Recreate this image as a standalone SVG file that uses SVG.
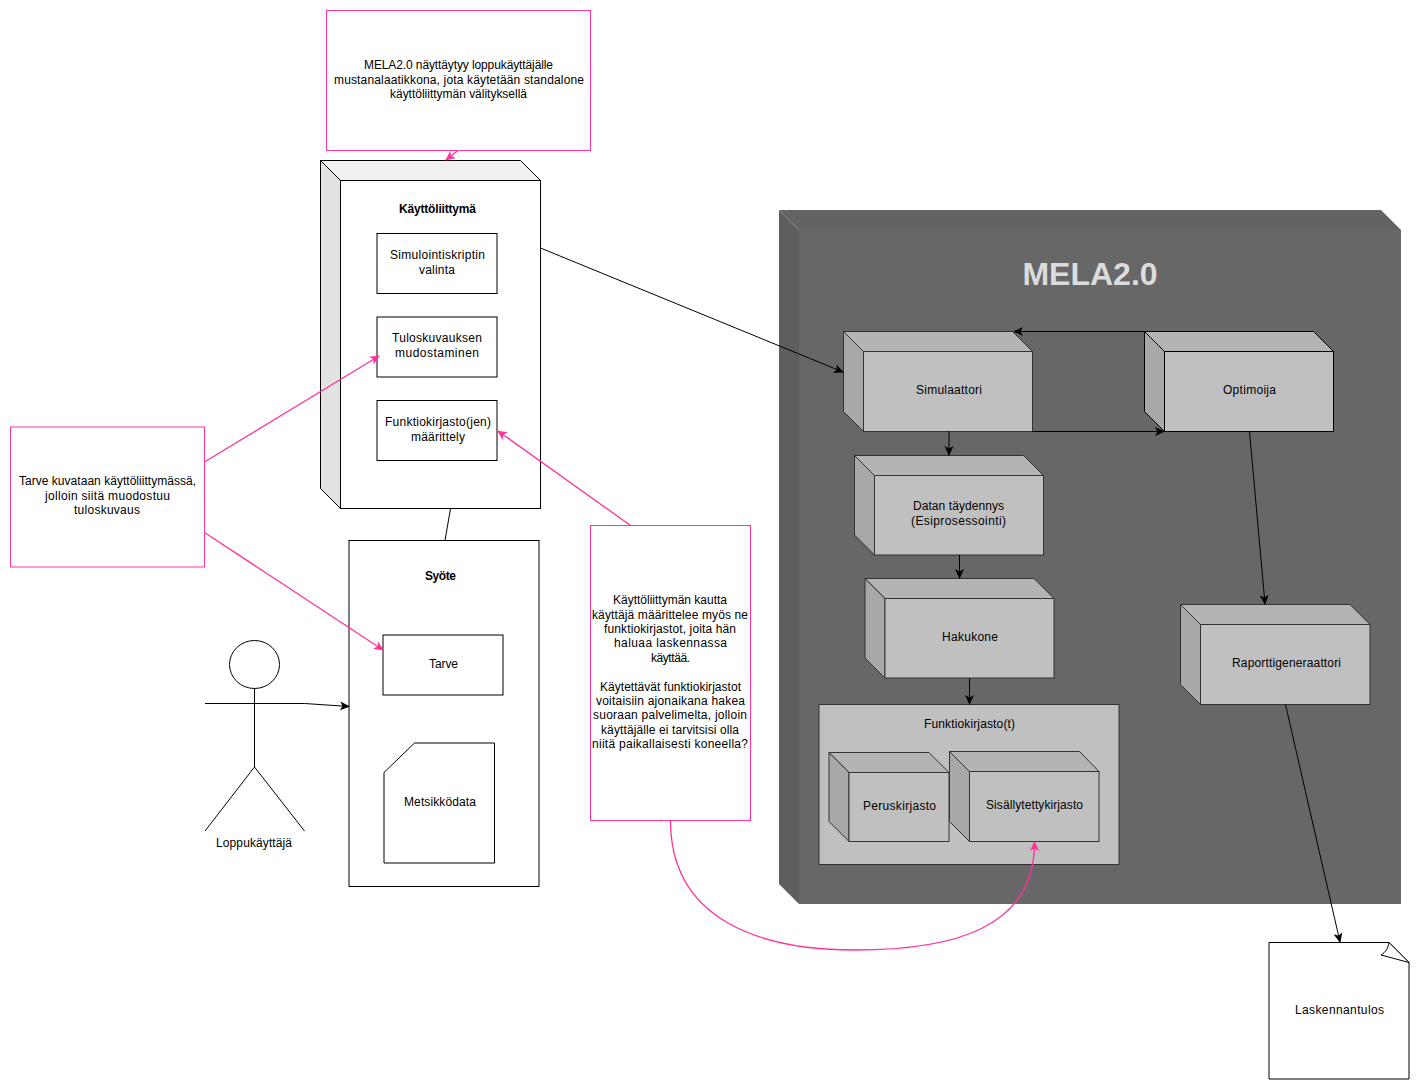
<svg xmlns="http://www.w3.org/2000/svg" width="1420" height="1090" viewBox="0 0 1420 1090">
<style>
text{font-family:"Liberation Sans",Arial,sans-serif;font-size:12px;fill:#000;text-anchor:middle}
.b{font-weight:bold}
.w{fill:#fff;stroke:#000;stroke-width:1}
.note{fill:#fff;stroke:#ff3399;stroke-width:1}
.c{fill:none;stroke:#000;stroke-width:1}
.p{fill:none;stroke:#ff3399;stroke-width:1.3}
.g{fill:#c0c0c0;stroke:#333;stroke-width:1}
.gt{fill:#b4b4b4;stroke:#333;stroke-width:1}
.gl{fill:#a8a8a8;stroke:#333;stroke-width:1}
</style>
<defs>
<marker id="a" markerWidth="12" markerHeight="10" refX="9" refY="4.500" orient="auto" markerUnits="userSpaceOnUse"><path d="M0 0L10 4.500L0 9L2.500 4.500Z" fill="#000"/></marker>
<marker id="ap" markerWidth="12" markerHeight="10" refX="9" refY="4.500" orient="auto" markerUnits="userSpaceOnUse"><path d="M0 0L10 4.500L0 9L2.500 4.500Z" fill="#ff3399"/></marker>
</defs>

<g id="note-top"><rect class="note" x="326.500" y="10.500" width="264" height="140"/>
<text x="458.500" y="69" textLength="189">MELA2.0 näyttäytyy loppukäyttäjälle</text><text x="459" y="84" textLength="250">mustanalaatikkona, jota käytetään standalone</text><text x="458.500" y="98" textLength="137">käyttöliittymän välityksellä</text></g>

<g id="kayttoliittyma">
<path d="M320.500 160.500H520.500L540.500 180.500H340.500Z" fill="#f0f0f0" stroke="#000"/>
<path d="M320.500 160.500L340.500 180.500V508.500L320.500 488.500Z" fill="#e2e2e2" stroke="#000"/>
<rect class="w" x="340.500" y="180.500" width="200" height="328"/>
<text class="b" x="437.500" y="213" textLength="77">Käyttöliittymä</text></g>
<g id="simulointiskriptin"><rect class="w" x="377" y="233.500" width="120" height="60"/><text x="437.500" y="259" textLength="95">Simulointiskriptin</text><text x="437" y="274" textLength="36">valinta</text></g>
<g id="tuloskuvauksen"><rect class="w" x="377" y="317" width="120" height="60"/><text x="437" y="342" textLength="90">Tuloskuvauksen</text><text x="437" y="357" textLength="84">mudostaminen</text></g>
<g id="funktiokirjasto-maarittely"><rect class="w" x="377" y="400.500" width="120" height="60"/><text x="438" y="426" textLength="106">Funktiokirjasto(jen)</text><text x="438" y="441" textLength="54">määrittely</text></g>

<g id="syote"><rect class="w" x="349" y="540.500" width="190" height="346"/><text class="b" x="440.500" y="580" textLength="31">Syöte</text></g>
<g id="tarve"><rect class="w" x="383" y="635" width="120" height="60"/><text x="443.500" y="668" textLength="29">Tarve</text></g>
<g id="metsikkodata"><path class="w" d="M414.500 743H494.500V863H384V772.500Z"/><text x="440" y="806" textLength="72">Metsikködata</text></g>

<g id="loppukayttaja"><ellipse class="w" cx="254.500" cy="664.500" rx="25" ry="24"/><path class="c" d="M254.500 688.500V767M205 703.500H304.500M254.500 767L205 831M254.500 767L304.500 831"/><text x="254" y="847" textLength="76">Loppukäyttäjä</text></g>

<g id="note-tarve"><rect class="note" x="10.500" y="427" width="194" height="140"/>
<text x="107.500" y="485" textLength="177">Tarve kuvataan käyttöliittymässä,</text><text x="107.500" y="500" textLength="125">jolloin siitä muodostuu</text><text x="107" y="514" textLength="66">tuloskuvaus</text></g>

<g id="note-funktiot"><rect class="note" x="590.500" y="525.500" width="160" height="295"/>
<text x="670" y="604" textLength="114">Käyttöliittymän kautta</text><text x="670" y="619" textLength="156">käyttäjä määrittelee myös ne</text><text x="670" y="633" textLength="132">funktiokirjastot, joita hän</text><text x="670.500" y="647" textLength="113">haluaa laskennassa</text><text x="670.500" y="662" textLength="39">käyttää.</text>
<text x="670.500" y="691" textLength="141">Käytettävät funktiokirjastot</text><text x="670.500" y="705" textLength="149">voitaisiin ajonaikana hakea</text><text x="670" y="719" textLength="154">suoraan palvelimelta, jolloin</text><text x="670" y="734" textLength="138">käyttäjälle ei tarvitsisi olla</text><text x="670" y="748" textLength="156">niitä paikallaisesti koneella?</text></g>

<g id="mela">
<path d="M779 210H1381L1401 230H799Z" fill="#636363"/>
<path d="M779 210L799 230V904L779 884Z" fill="#5e5e5e"/>
<rect x="799" y="230" width="602" height="674" fill="#676767"/>
<text class="b" x="1090" y="285" style="font-size:32px;fill:#dcdcdc">MELA2.0</text></g>

<g id="simulaattori"><path class="gt" d="M843.500 331.500H1012.500L1032.500 351.500H863.500Z"/><path class="gl" d="M843.500 331.500L863.500 351.500V431.500L843.500 411.500Z"/><rect class="g" x="863.500" y="351.500" width="169" height="80"/><text x="949" y="394" textLength="66">Simulaattori</text></g>
<g id="optimoija"><path class="gt" d="M1144.500 331.500H1313.500L1333.500 351.500H1164.500Z" style="stroke:#000"/><path class="gl" d="M1144.500 331.500L1164.500 351.500V431.500L1144.500 411.500Z" style="stroke:#000"/><rect class="g" x="1164.500" y="351.500" width="169" height="80" style="stroke:#000"/><text x="1249.500" y="394" textLength="53">Optimoija</text></g>
<g id="datan-taydennys"><path class="gt" d="M854.500 455.500H1023.500L1043.500 475.500H874.500Z"/><path class="gl" d="M854.500 455.500L874.500 475.500V555L854.500 535Z"/><rect class="g" x="874.500" y="475.500" width="169" height="79.500"/><text x="958.500" y="510" textLength="91">Datan täydennys</text><text x="958.500" y="525" textLength="95">(Esiprosessointi)</text></g>
<g id="hakukone"><path class="gt" d="M865 578.500H1034L1054 598.500H885Z"/><path class="gl" d="M865 578.500L885 598.500V678L865 658Z"/><rect class="g" x="885" y="598.500" width="169" height="79.500"/><text x="970" y="641" textLength="56">Hakukone</text></g>
<g id="raporttigeneraattori"><path class="gt" d="M1180.500 604.500H1350L1370 624.500H1200.500Z"/><path class="gl" d="M1180.500 604.500L1200.500 624.500V704.500L1180.500 684.500Z"/><rect class="g" x="1200.500" y="624.500" width="169.500" height="80"/><text x="1286.500" y="667" textLength="109">Raporttigeneraattori</text></g>
<g id="funktiokirjastot"><rect class="g" x="819" y="704.500" width="300" height="160"/><text x="969.500" y="728" textLength="91">Funktiokirjasto(t)</text></g>
<g id="peruskirjasto"><path class="gt" d="M829 752.500H929L949 772.500H849Z"/><path class="gl" d="M829 752.500L849 772.500V841.500L829 821.500Z"/><rect class="g" x="849" y="772.500" width="100" height="69"/><text x="899.500" y="810" textLength="73">Peruskirjasto</text></g>
<g id="sisallytettykirjasto"><path class="gt" d="M949.500 751.500H1079.500L1099 771.500H969.500Z"/><path class="gl" d="M949.500 751.500L969.500 771.500V841.500L949.500 821.500Z"/><rect class="g" x="969.500" y="771.500" width="129.500" height="70"/><text x="1034.500" y="809" textLength="97">Sisällytettykirjasto</text></g>

<g id="laskennantulos"><path class="w" d="M1269 942.500H1389L1409 962.500V1079H1269Z"/><path class="w" d="M1389 942.500C1388 948 1386 952 1381 955L1409 962.500Z"/><text x="1339.500" y="1014" textLength="89">Laskennantulos</text></g>

<g id="connectors">
<path class="c" d="M540.500 248L843 372" marker-end="url(#a)"/>
<path class="c" d="M1144.500 331.500H1014" marker-end="url(#a)"/>
<path class="c" d="M1032.500 431.500H1164" marker-end="url(#a)"/>
<path class="c" d="M949 431.500V455" marker-end="url(#a)"/>
<path class="c" d="M959.500 555V578" marker-end="url(#a)"/>
<path class="c" d="M969.500 678V704" marker-end="url(#a)"/>
<path class="c" d="M1249.500 431.500L1265 604" marker-end="url(#a)"/>
<path class="c" d="M1285.500 704.500L1340 942" marker-end="url(#a)"/>
<path class="c" d="M450.500 508.500L445 540.500"/>
<path class="c" d="M304.500 703.500L349 706.500" marker-end="url(#a)"/>
<path class="p" d="M458 150.500L446 160" marker-end="url(#ap)"/>
<path class="p" d="M204.500 462L379 356" marker-end="url(#ap)"/>
<path class="p" d="M204.500 532.500L383 650" marker-end="url(#ap)"/>
<path class="p" d="M630.500 525.500L498 431" marker-end="url(#ap)"/>
<path class="p" d="M670.500 820.500C670.500 920 760 950 855 950C950 950 1035 930 1034.500 842" marker-end="url(#ap)"/>
</g>
</svg>
